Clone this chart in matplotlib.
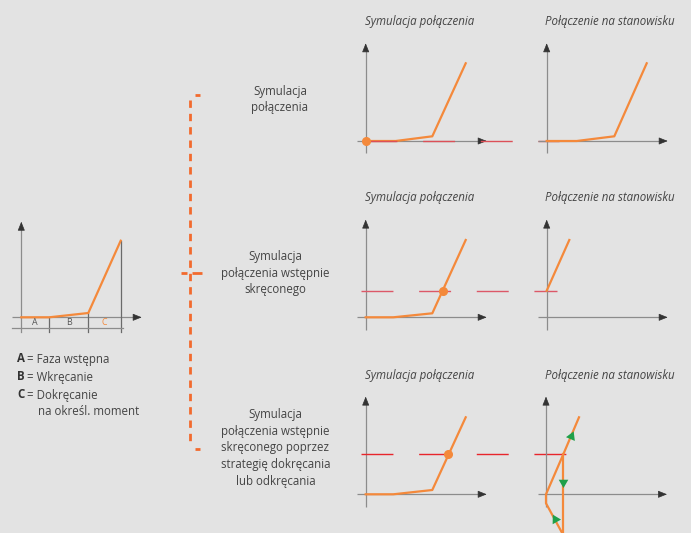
import matplotlib
matplotlib.use("Agg")
import matplotlib.pyplot as plt
import numpy as np

plt.rcParams['font.family'] = ['Open Sans', 'DejaVu Sans']
plt.rcParams['lines.scale_dashes'] = False

# ---------------- data (angle x, torque y, arbitrary units) ----------------
# small explanatory chart
overview_x = [0, 28, 67, 99.4]
overview_y = [0, 0, 4.3, 76.6]
phase_labels = ['A', 'B', 'C']
phase_bounds = [0, 28, 67, 99.4]

# row 1: connection simulation
r1_sim_x = [0, 30, 66.6, 100]
r1_sim_y = [0, 0, 4.7, 77.7]
r1_stand_x = [0, 30, 67.6, 100]
r1_stand_y = [0, 0, 4.7, 77.7]
r1_threshold = 0.0
r1_marker = (0, 0)

# row 2: pre-tightened connection
r2_sim_x = [0, 27.6, 66.6, 100]
r2_sim_y = [0, 0, 4.0, 77.3]
r2_stand_x = [0, 22.6]
r2_stand_y = [26.6, 77.3]
r2_threshold = 26.6
r2_marker = (77.3, 26.6)

# row 3: pre-tightened with tighten/loosen strategy
r3_sim_x = [0, 27.6, 66.6, 100]
r3_sim_y = [0, 0, 4.3, 77.0]
r3_stand_x = [16.3, 0, 0, 17.3, 33]
r3_stand_y = [-39, -9, 0, 40, 77]
r3_back_x = [17.3, 17.3]
r3_back_y = [40, -40]
r3_threshold = 40.0
r3_marker = (82.8, 40)
r3_arrows = [(25, 58.3, -23), (17.3, 12, 180), (8.5, -25, 29)]

legend_letters = ['A', 'B', 'C']
legend_texts = ['= Faza wstępna', '= Wkręcanie', '= Dokręcanie']
legend_cont = 'na określ. moment'
row_labels = ['Symulacja\npołączenia',
              'Symulacja\npołączenia wstępnie\nskręconego',
              'Symulacja\npołączenia wstępnie\nskręconego poprzez\nstrategię dokręcania\nlub odkręcania']
col_titles = ['Symulacja połączenia', 'Połączenie na stanowisku']

# ---------------- style ----------------
BG = '#e3e3e3'
ORANGE = '#f4893b'
BRACKET = '#f26a2e'
AXIS = '#8c8c8c'
HEAD = '#333333'
TXT = '#444444'
GREEN = '#1fa04a'
FS = 8.3
W, H = 691, 533

fig = plt.figure(figsize=(W / 100, H / 100), dpi=100)
fig.patch.set_facecolor(BG)
ov = fig.add_axes([0, 0, 1, 1])
ov.set_xlim(0, W)
ov.set_ylim(H, 0)
ov.axis('off')


def panel(ox, oy):
    ax = fig.add_axes([(ox - 10) / W, (H - (oy + 45)) / H, 135 / W, 145 / H])
    ax.set_xlim(-10, 125)
    ax.set_ylim(-45, 100)
    ax.axis('off')
    ax.patch.set_alpha(0)
    return ax


def axes_arrows(ax, xmin=-8.5, xmax=121, ymin=-12.3, ymax=97.7):
    ax.plot([xmin, xmax - 4], [0, 0], color=AXIS, lw=0.9, zorder=1, solid_capstyle='butt')
    ax.plot([0, 0], [ymin, ymax - 4], color=AXIS, lw=0.9, zorder=1, solid_capstyle='butt')
    ax.annotate('', xy=(xmax, 0), xytext=(xmax - 6, 0),
                arrowprops=dict(arrowstyle='-|>,head_length=0.55,head_width=0.22',
                                color=HEAD, lw=0.5, shrinkA=0, shrinkB=0))
    ax.annotate('', xy=(0, ymax), xytext=(0, ymax - 6),
                arrowprops=dict(arrowstyle='-|>,head_length=0.55,head_width=0.22',
                                color=HEAD, lw=0.5, shrinkA=0, shrinkB=0))


def threshold(ax, y, x0, x1, color):
    ax.plot([x0, x1], [y, y], color=color, lw=1.0, clip_on=False, zorder=4,
            linestyle=(0, (23, 18.5)), solid_capstyle='butt', dash_capstyle='butt')


# ---------------- left overview chart ----------------
ax0 = panel(21.3, 317.3)
axes_arrows(ax0, xmin=-9.3, xmax=120.4, ymin=0, ymax=95.6)
ax0.plot([-9.3, 101.7], [-10.4, -10.4], color=AXIS, lw=0.9)
ax0.plot([0, 0], [-14.4, 0], color=AXIS, lw=0.9)
for xb, yb in zip(overview_x[1:], overview_y[1:]):
    ax0.plot([xb, xb], [yb, -14.4], color='#6a6a6a', lw=0.9, zorder=1)
ax0.plot(overview_x, overview_y, color=ORANGE, lw=1.6, zorder=3)
for i, lab in enumerate(phase_labels):
    xc = (phase_bounds[i] + phase_bounds[i + 1]) / 2
    ax0.text(xc, -5.6, lab, ha='center', va='center', fontsize=6.4,
             color=(ORANGE if lab == 'C' else '#555555'))

# legend below
for letter, txt, y in zip(legend_letters, legend_texts, [359, 377, 395]):
    ov.text(17.3, y, letter, fontsize=FS, fontweight='bold', color='#333333', va='center')
    ov.text(27.5, y, txt, fontsize=FS, color=TXT, va='center')
ov.text(37.7, 411.5, legend_cont, fontsize=FS, color=TXT, va='center')

# ---------------- bracket ----------------
ov.plot([190, 190], [100, 444], color=BRACKET, lw=2.0, linestyle=(0, (5.3, 4.3)),
        dash_capstyle='butt')
ov.plot([195, 200.5], [95.3, 95.3], color=BRACKET, lw=2.0, solid_capstyle='butt')
ov.plot([195, 200.5], [449, 449], color=BRACKET, lw=2.0, solid_capstyle='butt')
ov.plot([181, 187.5], [272.7, 272.7], color=BRACKET, lw=2.0, solid_capstyle='butt')
ov.plot([192, 202.5], [272.7, 272.7], color=BRACKET, lw=2.0, solid_capstyle='butt')

# row labels
for lab, xc, yc in zip(row_labels, [280, 275.5, 275.5], [99.5, 273, 448]):
    ov.text(xc, yc, lab, ha='center', va='center',
            fontsize=FS, color=TXT, linespacing=1.38, multialignment='center')

# column titles
for yt in [21.7, 198, 375]:
    ov.text(420, yt, col_titles[0], ha='center', va='center', fontsize=FS,
            style='italic', color=TXT)
    ov.text(610, yt, col_titles[1], ha='center', va='center', fontsize=FS,
            style='italic', color=TXT)

# ---------------- row 1 ----------------
a = panel(365.7, 141)
axes_arrows(a)
a.plot(r1_sim_x, r1_sim_y, color=ORANGE, lw=1.6, zorder=3)
threshold(a, r1_threshold, -0.5, 193.3, '#dc5058')
a.plot(*r1_marker, 'o', color=ORANGE, ms=5.5, zorder=5)
b = panel(546.7, 141)
axes_arrows(b)
b.plot(r1_stand_x, r1_stand_y, color=ORANGE, lw=1.6, zorder=3)

# ---------------- row 2 ----------------
a = panel(365.7, 317.3)
axes_arrows(a)
a.plot(r2_sim_x, r2_sim_y, color=ORANGE, lw=1.6, zorder=3)
threshold(a, r2_threshold, -4.7, 191.3, '#dc5868')
a.plot(*r2_marker, 'o', color=ORANGE, ms=5.5, zorder=5)
b = panel(546.7, 317.3)
axes_arrows(b)
b.plot(r2_stand_x, r2_stand_y, color=ORANGE, lw=1.6, zorder=5)

# ---------------- row 3 ----------------
a = panel(365.7, 494.3)
axes_arrows(a)
a.plot(r3_sim_x, r3_sim_y, color=ORANGE, lw=1.6, zorder=3)
threshold(a, r3_threshold, -4.7, 200.3, '#e8262c')
a.plot(*r3_marker, 'o', color=ORANGE, ms=5.5, zorder=5)
b = panel(546, 494.3)
axes_arrows(b)
b.plot(r3_stand_x, r3_stand_y, color=ORANGE, lw=1.6, zorder=3, clip_on=False)
b.plot(r3_back_x, r3_back_y, color=ORANGE, lw=1.6, zorder=3, clip_on=False)
for xa, ya, rot in r3_arrows:
    b.plot(xa, ya, marker=(3, 0, rot), color=GREEN, ms=8, zorder=6, clip_on=False,
           markeredgewidth=0)

fig.savefig('out.png', dpi=100, facecolor=BG)
